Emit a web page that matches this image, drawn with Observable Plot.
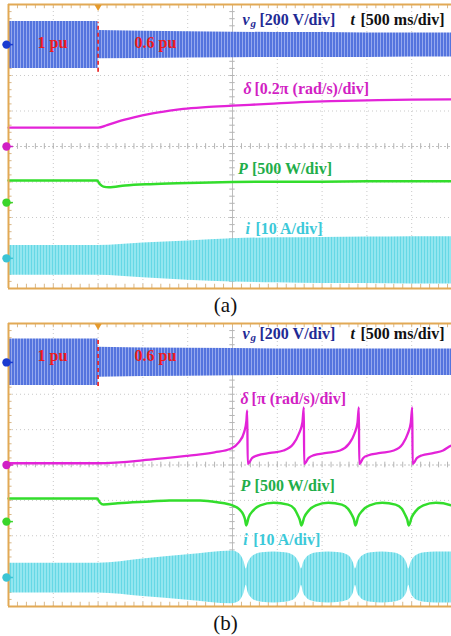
<!DOCTYPE html>
<html><head><meta charset="utf-8">
<script src="https://cdn.jsdelivr.net/npm/d3@7"></script>
<script src="https://cdn.jsdelivr.net/npm/@observablehq/plot@0.6"></script>
<style>
html,body{margin:0;padding:0;background:#fff;overflow:hidden;}
#root{width:451px;}
.cap{height:26px;line-height:26px;text-align:center;font-family:"Liberation Serif","Times New Roman",serif;font-size:21px;color:#111;}
</style></head><body>
<svg width="0" height="0" style="position:absolute">
<defs>
<pattern id="vgPat" patternUnits="userSpaceOnUse" width="3" height="6">
<rect width="3" height="6" fill="#5474de"/><rect x="2" width="1" height="6" fill="#95a9ee"/>
</pattern>
<pattern id="iPat" patternUnits="userSpaceOnUse" width="3" height="6">
<rect width="3" height="6" fill="#93e6ef"/><rect x="1" width="1" height="6" fill="#66d8e5"/>
</pattern>
</defs></svg>
<div id="root"></div>
<script>
// ---------- data (time in s, values in screen divisions from centre) ----------
// Panel (a)
const vgA_t  = [0, 0.999, 1.0, 1.5, 2.0, 2.5, 3.0, 3.5, 4.0, 4.5, 5.0];
const vgA_hi = [3.52, 3.52, 3.27, 3.25, 3.23, 3.22, 3.21, 3.21, 3.20, 3.20, 3.20];
const vgA_lo = [2.20, 2.20, 2.47, 2.48, 2.49, 2.50, 2.51, 2.51, 2.51, 2.52, 2.52];

const dA_t = [0, 1.0, 1.1, 1.22, 1.4, 1.58, 1.8, 1.95, 2.2, 2.5, 2.9, 3.26, 3.6, 4.0, 4.5, 5.0];
const dA_y = [0.53, 0.53, 0.60, 0.70, 0.82, 0.92, 1.01, 1.06, 1.11, 1.15, 1.20, 1.25, 1.28, 1.30, 1.32, 1.33];

const pA_t = [0, 0.99, 1.02, 1.06, 1.12, 1.3, 1.58, 2.0, 2.5, 3.0, 3.5, 4.0, 4.5, 5.0];
const pA_y = [-0.96, -0.96, -1.06, -1.13, -1.15, -1.10, -1.06, -1.03, -1.00, -0.99, -0.99, -0.98, -0.98, -0.98];

const iA_t  = [0, 1.0, 1.5, 2.0, 2.5, 3.0, 3.5, 4.0, 4.5, 5.0];
const iA_hi = [-2.79, -2.79, -2.72, -2.66, -2.60, -2.57, -2.56, -2.55, -2.54, -2.54];
const iA_lo = [-3.63, -3.63, -3.70, -3.77, -3.82, -3.84, -3.86, -3.86, -3.87, -3.87];

// Panel (b)
const vgB_t  = [0, 0.999, 1.0, 1.5, 2.0, 2.5, 3.0, 3.5, 4.0, 4.5, 5.0];
const vgB_hi = [3.56, 3.56, 3.33, 3.31, 3.30, 3.29, 3.28, 3.28, 3.28, 3.28, 3.28];
const vgB_lo = [2.25, 2.25, 2.48, 2.50, 2.51, 2.52, 2.53, 2.53, 2.53, 2.53, 2.53];

const dB_t = [0, 1.0, 1.58, 2.0, 2.14, 2.3, 2.48, 2.57, 2.63, 2.655, 2.664, 2.67,
  2.72, 2.78, 2.92, 3.07, 3.18, 3.24, 3.28, 3.296, 3.30,
  3.35, 3.40, 3.55, 3.70, 3.80, 3.86, 3.895, 3.91, 3.915,
  3.96, 4.01, 4.15, 4.30, 4.40, 4.455, 4.49, 4.506, 4.51,
  4.56, 4.61, 4.75, 4.85, 4.92, 5.0];
const dB_y = [0.05, 0.05, 0.15, 0.26, 0.30, 0.36, 0.46, 0.64, 0.93, 1.25, 1.54, 0.03,
  0.20, 0.27, 0.34, 0.41, 0.60, 0.88, 1.20, 1.63, 0.03,
  0.20, 0.27, 0.34, 0.41, 0.60, 0.88, 1.20, 1.63, 0.03,
  0.20, 0.27, 0.34, 0.41, 0.60, 0.88, 1.20, 1.63, 0.03,
  0.20, 0.27, 0.34, 0.41, 0.52, 0.62];

const pB_t = [0, 0.99, 1.02, 1.06, 1.22, 1.58, 1.8, 2.14, 2.33, 2.5, 2.58, 2.62, 2.64, 2.653,
  2.68, 2.73, 2.81, 2.96, 3.12, 3.19, 3.225, 3.25, 3.27,
  3.30, 3.35, 3.43, 3.57, 3.72, 3.79, 3.83, 3.855, 3.873,
  3.90, 3.95, 4.03, 4.17, 4.32, 4.39, 4.425, 4.45, 4.468,
  4.50, 4.55, 4.63, 4.77, 4.94, 5.0];
const pB_y = [-0.95, -0.95, -1.06, -1.12, -1.08, -1.03, -1.00, -1.00, -1.05, -1.14, -1.26, -1.40, -1.54, -1.71,
  -1.48, -1.29, -1.14, -1.07, -1.12, -1.24, -1.40, -1.54, -1.71,
  -1.48, -1.29, -1.14, -1.07, -1.12, -1.24, -1.40, -1.54, -1.71,
  -1.48, -1.29, -1.14, -1.07, -1.12, -1.24, -1.40, -1.54, -1.71,
  -1.48, -1.29, -1.14, -1.07, -1.14, -1.20];

const iB_t = [0, 1.0, 1.5, 2.0, 2.5, 2.56, 2.6, 2.63, 2.653,
  2.675, 2.71, 2.76, 2.83, 2.96, 3.09, 3.16, 3.21, 3.245, 3.27,
  3.292, 3.327, 3.377, 3.447, 3.57, 3.70, 3.77, 3.82, 3.85, 3.873,
  3.895, 3.93, 3.98, 4.05, 4.17, 4.29, 4.36, 4.41, 4.445, 4.468,
  4.49, 4.525, 4.575, 4.645, 4.77, 5.0];
const iB_hi = [-2.78, -2.78, -2.66, -2.54, -2.43, -2.48, -2.58, -2.74, -2.94,
  -2.77, -2.62, -2.53, -2.48, -2.46, -2.48, -2.53, -2.62, -2.77, -2.94,
  -2.77, -2.62, -2.53, -2.48, -2.46, -2.48, -2.53, -2.62, -2.77, -2.94,
  -2.77, -2.62, -2.53, -2.48, -2.46, -2.48, -2.53, -2.62, -2.77, -2.94,
  -2.77, -2.62, -2.53, -2.48, -2.46, -2.46];
const iB_lo = [-3.62, -3.62, -3.72, -3.82, -3.92, -3.88, -3.78, -3.62, -3.40,
  -3.61, -3.75, -3.84, -3.88, -3.90, -3.88, -3.84, -3.75, -3.61, -3.40,
  -3.61, -3.75, -3.84, -3.88, -3.90, -3.88, -3.84, -3.75, -3.61, -3.40,
  -3.61, -3.75, -3.84, -3.88, -3.90, -3.88, -3.84, -3.75, -3.61, -3.40,
  -3.61, -3.75, -3.84, -3.88, -3.90, -3.90];

// channel marker offsets [vg, delta, P, i]
const markA = [2.87, 0, -1.58, -3.15];
const markB = [2.90, 0, -1.60, -3.18];

// label anchors [t, y]
const labA = {vg:[2.612, 3.58], tt:[3.817, 3.58], pu1:[0.49, 2.93], pu06:[1.64, 2.93], d:[2.623, 1.61], P:[2.56, -0.62], i:[2.645, -2.31]};
const labB = {vg:[2.612, 3.71], tt:[3.817, 3.71], pu1:[0.49, 3.09], pu06:[1.64, 3.09], d:[2.59, 1.88], P:[2.59, -0.58], i:[2.62, -2.13]};
const deltaScale = ["[0.2π (rad/s)/div]", "[π (rad/s)/div]"];
const redDash = [[2.09, 3.50], [2.22, 3.56]];

const gridT = [0.5, 1, 1.5, 2, 3, 3.5, 4, 4.5];
const gridY = [-3, -2, -1, 1, 2, 3];
const minorT = d3.range(0, 5.001, 0.1);
const minorY = d3.range(-4, 4.001, 0.2);

// ---------- helpers ----------
const zip3 = (t, a, b) => t.map((v, k) => ({t: v, hi: a[k], lo: b[k]}));
const zip2 = (t, a) => t.map((v, k) => ({t: v, y: a[k]}));
const serif = "Liberation Serif, Times New Roman, serif";
const NAVY = "#1f2b95", MAG = "#d21fc4", MAGL = "#e323d8", GRN = "#1fae4a", GRNL = "#33dd2c", CY = "#3cc9d9", RED = "#ee1b1b", FRAME = "#e2a955";
const COLS = ["#1a3bd0", "#d01fc4", "#3ad52a", "#3cc4d4"];

function lbl(p, text, fill, o = {}) {
  return Plot.text([{t: p[0], y: p[1], s: text}], {x: "t", y: "y", text: "s", fill, fontFamily: serif, fontWeight: "bold", fontSize: 16, textAnchor: "start", ...o});
}

function panel(o) {
  const top = o.top;
  return Plot.plot({
    width: 451, height: 292,
    marginTop: 0, marginBottom: 0, marginLeft: 0, marginRight: 0,
    x: {domain: [0, 5], range: [8, 456], axis: null},
    y: {domain: [-4, 4], range: [288, top], axis: null},
    style: {background: "#fff", overflow: "hidden"},
    marks: [
      // grid
      Plot.ruleX(gridT, {x: d => d, y1: -4, y2: 4, stroke: "#c9c9c9", strokeWidth: 1, strokeDasharray: "1,3"}),
      Plot.ruleY(gridY, {y: d => d, x1: 0, x2: 5, stroke: "#c9c9c9", strokeWidth: 1, strokeDasharray: "1,3"}),
      Plot.ruleX([2.5], {x: d => d, y1: -4, y2: 4, stroke: "#bdbdbd", strokeWidth: 1}),
      Plot.ruleY([0], {y: d => d, x1: 0, x2: 5, stroke: "#c4c4c4", strokeWidth: 1, strokeDasharray: "2,2"}),
      Plot.ruleX(minorT, {x: d => d, y1: -0.08, y2: 0.08, stroke: "#b5b5b5"}),
      Plot.ruleY(minorY, {y: d => d, x1: 2.47, x2: 2.53, stroke: "#b5b5b5"}),
      Plot.ruleX(minorT, {x: d => d, y1: -4, y2: -3.88, stroke: "#d9b88a"}),
      Plot.ruleX(minorT, {x: d => d, y1: 4, y2: 3.88, stroke: "#d9b88a"}),
      Plot.ruleY(minorY, {y: d => d, x1: 0, x2: 0.04, stroke: "#d9b88a"}),
      // current band
      Plot.areaY(o.i, {x: "t", y1: "lo", y2: "hi", fill: "url(#iPat)", curve: "monotone-x"}),
      // grid voltage band
      Plot.areaY(o.vg, {x: "t", y1: "lo", y2: "hi", fill: "url(#vgPat)", curve: "linear"}),
      // power and delta
      Plot.line(o.p, {x: "t", y: "y", stroke: GRNL, strokeWidth: 2.5, curve: "monotone-x"}),
      Plot.line(o.d, {x: "t", y: "y", stroke: MAGL, strokeWidth: 2.3, curve: "monotone-x"}),
      // red dashed step marker
      Plot.ruleX([1], {x: d => d, y1: o.dash[0], y2: o.dash[1], stroke: RED, strokeWidth: 1.6, strokeDasharray: "4,3"}),
      // frame
      Plot.ruleY([-4, 4], {y: d => d, x1: 0, x2: 5, stroke: FRAME, strokeWidth: 2}),
      Plot.ruleX([0], {x: d => d, y1: -4, y2: 4, stroke: FRAME, strokeWidth: 2}),
      // trigger marker
      Plot.dot([1], {x: d => d, y: 3.93, symbol: "triangle", rotate: 180, r: 2.6, fill: "#e59a2c"}),
      // channel markers
      Plot.ruleY(o.mark, {y: d => d, x1: -0.02, x2: 0.055, stroke: (d, k) => COLS[k], strokeWidth: 1.5}),
      Plot.dot(o.mark, {x: 0, y: d => d, dx: -2, r: 4.2, fill: (d, k) => COLS[k], stroke: "none"}),
      // labels
      lbl(o.lab.vg, "v", NAVY, {fontStyle: "italic"}),
      lbl(o.lab.vg, "g", NAVY, {fontStyle: "italic", fontSize: 11, dx: 8, dy: 4}),
      lbl(o.lab.vg, "[200 V/div]", NAVY, {dx: 17}),
      lbl(o.lab.tt, "t", "#111", {fontStyle: "italic"}),
      lbl(o.lab.tt, "[500 ms/div]", "#111", {dx: 10}),
      lbl(o.lab.pu1, "1 pu", RED, {textAnchor: "middle"}),
      lbl(o.lab.pu06, "0.6 pu", RED, {textAnchor: "middle"}),
      lbl(o.lab.d, "δ", MAG, {fontStyle: "italic"}),
      lbl(o.lab.d, o.dscale, MAG, {dx: 11}),
      lbl(o.lab.P, "P", GRN, {fontStyle: "italic"}),
      lbl(o.lab.P, "[500 W/div]", GRN, {dx: 14}),
      lbl(o.lab.i, "i", CY, {fontStyle: "italic"}),
      lbl(o.lab.i, "[10 A/div]", CY, {dx: 10})
    ]
  });
}

const root = document.getElementById("root");
root.append(panel({top: 4, vg: zip3(vgA_t, vgA_hi, vgA_lo), i: zip3(iA_t, iA_hi, iA_lo), p: zip2(pA_t, pA_y), d: zip2(dA_t, dA_y), mark: markA, lab: labA, dscale: deltaScale[0], dash: redDash[0]}));
const capA = document.createElement("div"); capA.className = "cap"; capA.textContent = "(a)"; root.append(capA);
root.append(panel({top: 5, vg: zip3(vgB_t, vgB_hi, vgB_lo), i: zip3(iB_t, iB_hi, iB_lo), p: zip2(pB_t, pB_y), d: zip2(dB_t, dB_y), mark: markB, lab: labB, dscale: deltaScale[1], dash: redDash[1]}));
const capB = document.createElement("div"); capB.className = "cap"; capB.textContent = "(b)"; root.append(capB);
</script>
</body></html>
